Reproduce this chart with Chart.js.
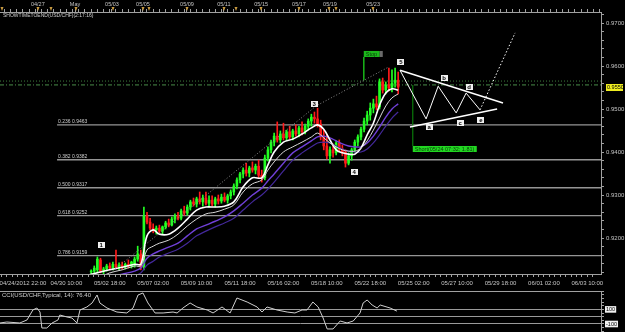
<!DOCTYPE html>
<html>
<head>
<meta charset="utf-8">
<script src="https://cdn.jsdelivr.net/npm/chart.js@4"></script>
<style>
  html, body { margin:0; padding:0; background:#000; overflow:hidden; }
  #wrap { position:relative; width:625px; height:332px; background:#000; }
  #main { position:absolute; left:0; top:0; }
  #cci { position:absolute; left:0; top:290px; }
</style>
</head>
<body>
<div id="wrap">
  <canvas id="main" width="625" height="290"></canvas>
  <canvas id="cci" width="625" height="42"></canvas>
</div>
<script>
// ---- axis labels ----
const bottomLabels = ['04/24/2012 22:00','04/30 10:00','05/02 18:00','05/07 02:00','05/09 10:00','05/11 18:00','05/16 02:00','05/18 10:00','05/22 18:00','05/25 02:00','05/27 10:00','05/29 18:00','06/01 02:00','06/03 10:00'];
const topLabels = ['04/27','May','05/03','05/05','05/09','05/11','05/15','05/17','05/19','05/23'];
const topIdx = [4.8, 16.8, 28.7, 38.7, 52.9, 64.8, 76.8, 89, 99, 112.9];
const topMarks = [-6.8, 4.8, 9.0, 17.1, 29, 38.7, 40.6, 52.9, 64.8, 68.7, 76.8, 89, 98.7, 101, 112.9];

// ---- 4H candles, bar index starts at firstBar ----
const firstBar = 22;
const opens = [.9121,.9123,.9126,.9149,.9123,.9128,.9135,.9130,.9139,.9132,.9137,.9132,.9139,.9135,.9137,.9151,.9163,.9132,.9251,.9237,
  .9223,.9219,.9223,.9216,.9226,.9235,.9230,.9244,.9251,.9246,.9263,.9258,.9272,.9284,.9279,.9291,.9284,.9293,.9281,.9288,
  .9279,.9291,.9286,.9295,.9288,.9298,.9307,.9321,.9335,.9349,.9358,.9351,.9363,.9358,.9367,.9346,.9340,.9386,.9405,.9423,
  .9437,.9428,.9442,.9433,.9447,.9435,.9449,.9442,.9456,.9447,.9460,.9472,.9481,.9477,.9465,.9435,.9414,.9391,.9405,.9398,
  .9421,.9407,.9400,.9374,.9391,.9405,.9423,.9435,.9453,.9472,.9486,.9502,.9512,.9505,.9563,.9544,.9556,.9549,.9560,.9567];
const highs = [.9126,.9135,.9156,.9153,.9132,.9139,.9142,.9144,.9172,.9142,.9144,.9142,.9149,.9146,.9156,.9181,.9172,.9272,.9260,.9246,
  .9233,.9228,.9230,.9228,.9239,.9244,.9249,.9256,.9260,.9267,.9274,.9277,.9288,.9293,.9295,.9307,.9300,.9307,.9298,.9298,
  .9295,.9300,.9302,.9305,.9302,.9312,.9326,.9340,.9353,.9363,.9374,.9367,.9377,.9372,.9381,.9358,.9393,.9412,.9428,.9444,
  .9470,.9449,.9467,.9451,.9460,.9453,.9463,.9460,.9470,.9465,.9477,.9488,.9493,.9502,.9474,.9451,.9440,.9412,.9419,.9426,
  .9428,.9416,.9405,.9398,.9409,.9428,.9440,.9458,.9479,.9495,.9514,.9523,.9530,.9570,.9572,.9563,.9595,.9591,.9595,.9586];
const lows = [.9114,.9116,.9119,.9119,.9116,.9123,.9126,.9126,.9130,.9126,.9128,.9128,.9130,.9130,.9132,.9146,.9126,.9126,.9233,.9219,
  .9212,.9209,.9212,.9209,.9221,.9226,.9228,.9235,.9242,.9242,.9253,.9253,.9265,.9274,.9272,.9279,.9274,.9277,.9272,.9274,
  .9272,.9279,.9281,.9284,.9281,.9291,.9300,.9314,.9328,.9340,.9344,.9342,.9353,.9349,.9340,.9330,.9335,.9379,.9398,.9414,
  .9423,.9421,.9428,.9426,.9430,.9428,.9437,.9435,.9440,.9442,.9451,.9460,.9467,.9458,.9428,.9405,.9384,.9374,.9388,.9393,
  .9400,.9391,.9365,.9370,.9381,.9400,.9414,.9428,.9447,.9463,.9474,.9491,.9498,.9500,.9537,.9535,.9542,.9540,.9551,.9535];
const closes = [.9123,.9130,.9151,.9123,.9128,.9135,.9130,.9139,.9132,.9137,.9132,.9139,.9135,.9144,.9151,.9163,.9132,.9251,.9237,.9223,
  .9219,.9223,.9216,.9226,.9235,.9230,.9244,.9251,.9246,.9263,.9258,.9272,.9284,.9279,.9291,.9284,.9293,.9281,.9288,.9279,
  .9291,.9286,.9295,.9288,.9298,.9307,.9321,.9335,.9349,.9358,.9351,.9363,.9358,.9367,.9346,.9340,.9386,.9405,.9423,.9437,
  .9428,.9442,.9433,.9447,.9435,.9449,.9442,.9456,.9447,.9460,.9472,.9481,.9477,.9465,.9435,.9414,.9391,.9405,.9398,.9421,
  .9407,.9400,.9374,.9391,.9405,.9423,.9435,.9453,.9472,.9486,.9502,.9512,.9505,.9563,.9544,.9556,.9549,.9560,.9567,.9551];

// ---- moving averages ----
const maIdx = [20,24,28,32,36,38,40,42,44,47,50,53,56,59,62,65,68,71,74,77,79,81,84,87,90,93,95,97,99,101,103,105,107,109,111,113,115,117,119,121];
const maFast = [.9112,.9119,.9126,.9132,.9139,.9139,.9205,.9219,.9209,.9209,.9223,.9244,.9265,.9272,.9272,.9274,.9284,.9319,.9340,.9340,
  .9370,.9400,.9423,.9430,.9442,.9456,.9463,.9453,.9428,.9405,.9398,.9395,.9395,.9409,.9440,.9467,.9509,.9537,.9547,.9544];
const maSlow = [.9102,.9107,.9119,.9126,.9135,.9135,.9172,.9181,.9188,.9195,.9209,.9228,.9244,.9256,.9260,.9267,.9277,.9307,.9326,.9335,
  .9358,.9377,.9400,.9412,.9423,.9435,.9444,.9433,.9421,.9412,.9405,.9402,.9402,.9409,.9426,.9451,.9479,.9507,.9526,.9535];
const maPurpleA = [.9095,.9102,.9109,.9116,.9123,.9130,.9153,.9163,.9170,.9179,.9188,.9205,.9221,.9230,.9239,.9249,.9263,.9281,.9300,.9316,
  .9333,.9349,.9374,.9398,.9412,.9426,.9435,.9437,.9433,.9426,.9419,.9414,.9412,.9412,.9421,.9437,.9458,.9481,.9500,.9512];
const maPurpleB = [.9086,.9091,.9098,.9105,.9112,.9119,.9137,.9146,.9156,.9165,.9174,.9188,.9205,.9216,.9226,.9235,.9246,.9265,.9284,.9300,
  .9314,.9330,.9356,.9381,.9398,.9412,.9421,.9423,.9421,.9414,.9407,.9402,.9400,.9400,.9407,.9421,.9440,.9460,.9479,.9493];

// ---- fibonacci levels ----
const fibRatios = [0.236, 0.382, 0.500, 0.618, 0.786];
const fibPrices = [0.9463, 0.9382, 0.9317, 0.9252, 0.9159];
const fibStartIdx = 11;

// ---- elliott wave marks ----
const waveNames = ['1','3','4','5'];
const waveIdx = [25.2, 93.9, 106.8, 121.9];
const wavePrices = [.9184, .9512, .9353, .9609];
const waveLineIdx = [27.4, 94.5, 118];
const waveLinePrices = [.9114, .9507, .9598];

// ---- triangle a-e ----
const zigIdx = [121.6, 130, 133.9, 139.7, 142.9, 147.4];
const zigPrices = [.9590, .9477, .9553, .9491, .9537, .9498];
const breakIdx = [147.4, 158.7];
const breakPrices = [.9498, .9677];
const upperIdx = [121.6, 154.8];
const upperPrices = [.9590, .9514];
const lowerIdx = [124.8, 152.9];
const lowerPrices = [.9458, .9500];
const triNames = ['a','b','c','d','e'];
const triIdx = [131, 135.8, 141, 143.9, 147.7];
const triPrices = [.9458, .9572, .9467, .9551, .9474];

// ---- orders / price lines ----
const stopIdx = 109.9, stopTop = .9621, stopBottom = .9567;
const shortIdx = 125.7, shortTop = .9556, shortBottom = .9414;
const shortText = 'Short(05/24 07:32; 1.81)';
const dottedLevel = .9565, markLevel = .9556, lastPrice = .9550;

// ---- CCI(14) ----
const cciIdx = [-7.4,-5.2,-1,1.3,3.2,4.5,5.5,6.1,7.7,9.4,11.3,11.9,14.2,15.8,17.4,18.4,20.6,22.3,23.9,24.8,27.1,30.3,33.5,35.5,37.1,38.7,40.3,42.6,45.2,48.4,49.7,51.6,53.9,56.1,59.4,61.3,64.2,66.8,69,72.3,75.5,77.1,78.7,81.9,85.2,87.7,90,91.6,93.5,95.2,96.8,98.1,100,102.3,104.5,106.5,108.7,109.7,111,112.6,114.2,115.2,118.4,120.6];
const cciVals = [-86,-73,-86,-45,92,119,64,-155,-155,-86,-45,23,-4,-18,-86,92,133,188,297,188,119,64,51,119,297,325,188,51,51,64,51,119,188,133,92,51,133,51,256,201,133,64,133,92,64,51,92,92,201,133,-18,-168,-168,-59,-86,-59,51,188,229,160,119,160,119,76.4];
const cciLevels = [100, 0, -100];

const X_MIN = -7.4, X_MAX = 186.4;
const Y_MIN = 0.91163, Y_MAX = 0.97256;

Chart.defaults.font.family = '"Liberation Sans", Arial, sans-serif';
Chart.defaults.color = '#c4c4c4';

const axisCol = '#a0a0a0';
const upCol = '#22ff22', downCol = '#ff1a1a';
const candleCol = opens.map((o, i) => closes[i] >= o ? upCol : downCol);
const pts = (xs, ys) => xs.map((v, i) => ({x: v, y: ys[i]}));
const line = (data, color, width, dash, order, tension) => ({
  type: 'line', data, borderColor: color, borderWidth: width, borderDash: dash || [],
  pointRadius: 0, tension: tension || 0, order: order
});

const datasets = [
  {type: 'bar', data: opens.map((o, i) => ({x: firstBar + i, y: [lows[i], highs[i]]})),
   backgroundColor: candleCol, barThickness: 1, grouped: false, order: 6},
  {type: 'bar', data: opens.map((o, i) => ({x: firstBar + i, y: [o, closes[i]]})),
   backgroundColor: candleCol, barThickness: 2, minBarLength: 1, grouped: false, order: 5},
  line(pts(maIdx, maPurpleB), '#43289a', 1.2, null, 4, 0.35),
  line(pts(maIdx, maPurpleA), '#7040d8', 1.4, null, 4, 0.35),
  line(pts(maIdx, maSlow), '#d8d8d8', 1, null, 3, 0.35),
  line(pts(maIdx, maFast), '#ffffff', 1.6, null, 3, 0.35),
  line(pts(waveLineIdx, waveLinePrices), '#8a8a8a', 1, [1, 2], 2),
  line(pts(zigIdx, zigPrices), '#ffffff', 1, null, 2),
  line(pts(breakIdx, breakPrices), '#ffffff', 1, [1.5, 2], 2),
  line(pts(upperIdx, upperPrices), '#ffffff', 1.5, null, 2),
  line(pts(lowerIdx, lowerPrices), '#ffffff', 1.5, null, 2),
  line(pts([X_MIN, X_MAX], [dottedLevel, dottedLevel]), '#3c7c3c', 1, [1, 2], 7),
  line(pts([X_MIN, X_MAX], [markLevel, markLevel]), '#4a8e4a', 1, [4, 2, 1, 2], 7),
  line(pts([stopIdx, stopIdx], [stopTop, stopBottom]), '#18b018', 1, null, 2),
  line(pts([shortIdx, shortIdx], [shortTop, shortBottom]), '#0a7a0a', 1.2, null, 2)
];
fibPrices.forEach(p => datasets.push(line(pts([fibStartIdx, X_MAX], [p, p]), '#959595', 1.4, null, 9)));

function tag(ctx, text, cx, cy, bg, fg) {
  ctx.font = 'bold 6px "Liberation Sans"';
  const w = Math.max(7, Math.ceil(ctx.measureText(text).width) + 3), h = 6;
  ctx.fillStyle = bg;
  ctx.fillRect(Math.round(cx - w / 2), Math.round(cy - h / 2), w, h);
  ctx.fillStyle = fg;
  ctx.textAlign = 'center';
  ctx.textBaseline = 'middle';
  ctx.fillText(text, cx, cy + 0.5);
}

const overlay = {
  id: 'overlay',
  afterDatasetsDraw(chart) {
    const {ctx, chartArea: a} = chart;
    const x = chart.scales.x, y = chart.scales.y, xt = chart.scales.xt;
    ctx.save();
    // fib texts
    ctx.font = '5px "Liberation Sans"';
    ctx.fillStyle = '#cfcfcf';
    ctx.textAlign = 'left';
    ctx.textBaseline = 'bottom';
    fibRatios.forEach((r, i) => {
      ctx.fillText(r.toFixed(3) + ' ' + fibPrices[i].toFixed(4), x.getPixelForValue(fibStartIdx) + 1, y.getPixelForValue(fibPrices[i]) - 1);
    });
    // indicator caption
    ctx.textBaseline = 'top';
    ctx.fillText('SHOWTIMETOEND(USD/CHF)(2:17:16)', a.left + 3, a.top + 1.5);
    // wave + triangle tags
    waveNames.forEach((n, i) => tag(ctx, n, x.getPixelForValue(waveIdx[i]), y.getPixelForValue(wavePrices[i]), '#f0f0f0', '#000'));
    triNames.forEach((n, i) => tag(ctx, n, x.getPixelForValue(triIdx[i]), y.getPixelForValue(triPrices[i]), '#f0f0f0', '#000'));
    // stop box
    ctx.font = '5.5px "Liberation Sans"';
    const sx = x.getPixelForValue(stopIdx), sy = y.getPixelForValue(stopTop);
    const sw = Math.ceil(ctx.measureText('Stop').width) + 4;
    ctx.fillStyle = '#1cb81c';
    ctx.fillRect(sx, sy - 6, sw, 6);
    ctx.fillStyle = '#6a6a6a';
    ctx.fillRect(sx + sw, sy - 6, 3, 6);
    ctx.fillStyle = '#0a3a0a';
    ctx.textAlign = 'left';
    ctx.textBaseline = 'middle';
    ctx.fillText('Stop', sx + 2, sy - 2.8);
    // short box
    const hx = x.getPixelForValue(shortIdx), hy = y.getPixelForValue(shortBottom);
    const hw = Math.ceil(ctx.measureText(shortText).width) + 4;
    ctx.fillStyle = '#22d822';
    ctx.fillRect(hx, hy, hw, 6);
    ctx.fillStyle = '#0a3a0a';
    ctx.fillText(shortText, hx + 2, hy + 3.2);
    // last price label on the axis
    const py = y.getPixelForValue(lastPrice);
    ctx.fillStyle = '#f0ee20';
    ctx.fillRect(a.right + 5, py - 3.5, 17, 7);
    ctx.fillStyle = '#000';
    ctx.font = '5.5px "Liberation Sans"';
    ctx.fillText(lastPrice.toFixed(4), a.right + 6, py + 0.3);
    // markers on the top time axis
    ctx.fillStyle = '#c89a40';
    topMarks.forEach(v => {
      const mx = Math.round(xt.getPixelForValue(v));
      ctx.beginPath();
      ctx.moveTo(mx - 1.5, a.top - 5);
      ctx.lineTo(mx + 1.5, a.top - 5);
      ctx.lineTo(mx, a.top - 1);
      ctx.closePath();
      ctx.fill();
    });
    ctx.restore();
  }
};

new Chart(document.getElementById('main'), {
  type: 'bar',
  data: {datasets},
  options: {
    responsive: false, animation: false, events: [],
    layout: {padding: 0},
    plugins: {legend: {display: false}, tooltip: {enabled: false}},
    scales: {
      x: {
        type: 'linear', position: 'bottom', min: X_MIN, max: X_MAX, offset: false,
        afterBuildTicks: s => { const t = []; for (let k = -4; k <= 105; k++) t.push({value: k * 1.75}); s.ticks = t; },
        afterFit: s => { s.height = 16; s.paddingLeft = 0; s.paddingRight = 0; },
        grid: {offset: false, drawOnChartArea: false, color: axisCol, tickLength: 3},
        border: {color: axisCol},
        ticks: {
          autoSkip: false, maxRotation: 0, padding: 3, font: {size: 6},
          callback: v => { const k = v / 14; return Math.abs(k - Math.round(k)) < 1e-6 ? (bottomLabels[Math.round(k)] || '') : ''; }
        }
      },
      xt: {
        type: 'linear', position: 'top', min: X_MIN, max: X_MAX, offset: false,
        afterBuildTicks: s => {
          const t = [];
          for (let k = -3; k <= 93; k++) t.push(k * 2);
          topIdx.forEach(v => t.push(v));
          t.sort((p, q) => p - q);
          s.ticks = t.map(v => ({value: v}));
        },
        afterFit: s => { s.height = 12; s.paddingLeft = 0; s.paddingRight = 0; },
        grid: {offset: false, drawOnChartArea: false, color: axisCol, tickLength: 3},
        border: {color: axisCol},
        ticks: {
          autoSkip: false, maxRotation: 0, padding: 1, font: {size: 5.5},
          callback: v => { const j = topIdx.indexOf(v); return j >= 0 ? topLabels[j] : ''; }
        }
      },
      y: {
        position: 'right', min: Y_MIN, max: Y_MAX,
        afterBuildTicks: s => { const t = []; for (let k = 0; k <= 30; k++) t.push({value: 0.912 + k * 0.002}); s.ticks = t; },
        afterFit: s => { s.width = 24; s.paddingTop = 0; s.paddingBottom = 0; },
        grid: {drawOnChartArea: false, color: axisCol, tickLength: 3},
        border: {color: axisCol},
        ticks: {
          autoSkip: false, padding: 2, font: {size: 6},
          callback: v => Math.abs(v * 100 - Math.round(v * 100)) < 1e-6 ? v.toFixed(4) : ''
        }
      }
    }
  },
  plugins: [overlay]
});

const cciCaption = {
  id: 'cciCaption',
  afterDatasetsDraw(chart) {
    const {ctx, chartArea: a} = chart;
    ctx.save();
    ctx.font = '6px "Liberation Sans"';
    ctx.fillStyle = '#cfcfcf';
    ctx.textAlign = 'left';
    ctx.textBaseline = 'top';
    ctx.fillText('CCI(USD/CHF,Typical, 14): ' + cciVals[cciVals.length - 1].toFixed(2), a.left + 2, a.top + 1);
    ctx.restore();
  }
};

new Chart(document.getElementById('cci'), {
  type: 'line',
  data: {datasets: [{data: pts(cciIdx, cciVals), borderColor: '#d0d0d0', borderWidth: 1, pointRadius: 0, tension: 0}]},
  options: {
    responsive: false, animation: false, events: [],
    layout: {padding: 0},
    plugins: {legend: {display: false}, tooltip: {enabled: false}},
    scales: {
      x: {
        type: 'linear', position: 'top', min: X_MIN, max: X_MAX,
        ticks: {display: false},
        grid: {drawOnChartArea: false, drawTicks: false, color: axisCol},
        border: {color: axisCol},
        afterFit: s => { s.height = 1; s.paddingLeft = 0; s.paddingRight = 0; }
      },
      y: {
        position: 'right', min: -209.6, max: 352,
        afterBuildTicks: s => { const t = []; for (let k = -4; k <= 7; k++) t.push({value: k * 50}); s.ticks = t; },
        afterFit: s => { s.width = 24; s.paddingTop = 0; s.paddingBottom = 0; },
        grid: {
          color: c => cciLevels.includes(c.tick && c.tick.value) ? '#9a9a9a' : 'rgba(0,0,0,0)',
          tickColor: axisCol, tickLength: 3
        },
        border: {color: axisCol},
        ticks: {
          autoSkip: false, padding: 2, font: {size: 5.5}, color: '#000',
          showLabelBackdrop: true,
          backdropColor: c => (c.tick && Math.abs(c.tick.value) === 100) ? '#f0f0f0' : 'rgba(0,0,0,0)',
          backdropPadding: {top: 0, bottom: 0, left: 1, right: 1},
          callback: v => Math.abs(v) === 100 ? String(v) : ''
        }
      }
    }
  },
  plugins: [cciCaption]
});
</script>
</body>
</html>
